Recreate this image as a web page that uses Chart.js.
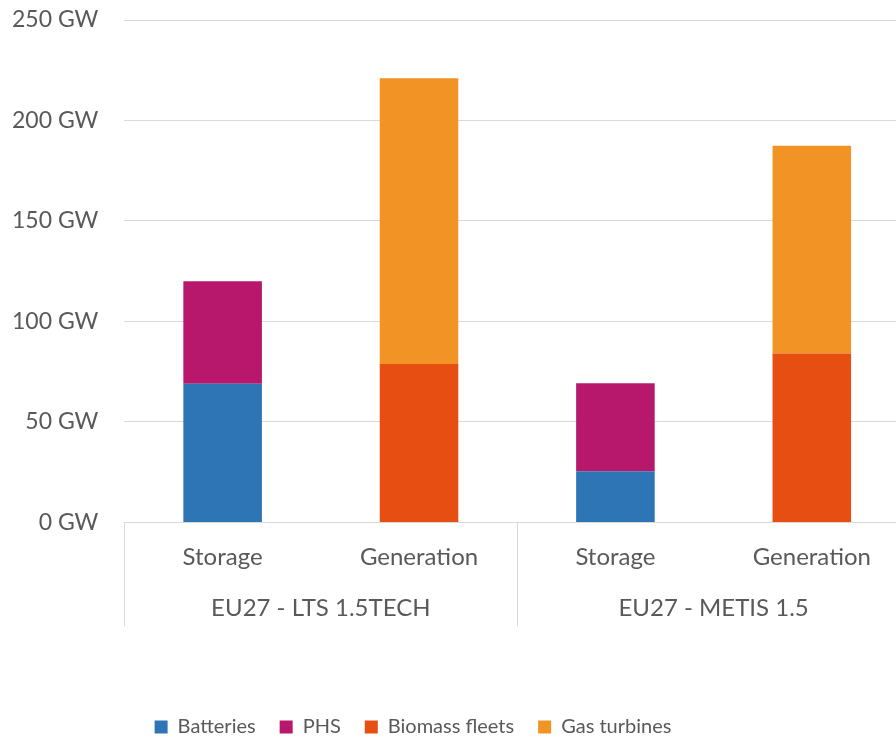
<!DOCTYPE html>
<html>
<head>
<meta charset="utf-8">
<script src="https://cdn.jsdelivr.net/npm/chart.js@4.4.1/dist/chart.umd.min.js"></script>
<style>
  html, body { margin: 0; padding: 0; background: #fff; overflow: hidden; }
  #wrap { width: 912px; height: 740px; }
</style>
</head>
<body>
<div id="wrap"><canvas id="c" width="912" height="740"></canvas></div>
<script>
const categories = ['Storage', 'Generation', 'Storage', 'Generation'];
const groups = ['EU27 - LTS 1.5TECH', 'EU27 - METIS 1.5'];
const batteries = [69, null, 25.4, null];
const phs = [51, null, 43.9, null];
const biomass = [null, 78.8, null, 84];
const gasTurbines = [null, 142.2, null, 103.4];
const yTicks = [0, 50, 100, 150, 200, 250];

const FONT = 'Lato, "Open Sans", sans-serif';
const TXT = '#595959';

const separators = {
  id: 'separators',
  afterDraw(chart) {
    const x = chart.scales.x, x2 = chart.scales.x2, ctx = chart.ctx;
    const mid = (x.getPixelForTick(1) + x.getPixelForTick(2)) / 2;
    const top = chart.chartArea.bottom;
    const bottom = x2.top + 43;
    ctx.save();
    ctx.strokeStyle = '#D9D9D9';
    ctx.lineWidth = 1;
    [chart.chartArea.left, mid, chart.chartArea.right].forEach(px => {
      const p = Math.round(px) + 0.5;
      ctx.beginPath(); ctx.moveTo(p, top); ctx.lineTo(p, bottom); ctx.stroke();
    });
    ctx.restore();
  }
};

const legendShift = {
  id: 'legendShift',
  afterLayout(chart) { chart.legend.right = chart.width - 72; }
};

new Chart(document.getElementById('c'), {
  type: 'bar',
  data: {
    labels: categories,
    datasets: [
      { label: 'Batteries', data: batteries, backgroundColor: '#2E75B6' },
      { label: 'PHS', data: phs, backgroundColor: '#B7186B' },
      { label: 'Biomass fleets', data: biomass, backgroundColor: '#E64F11' },
      { label: 'Gas turbines', data: gasTurbines, backgroundColor: '#F29325' }
    ]
  },
  options: {
    responsive: false,
    animation: false,
    layout: { padding: { left: -14, top: 0, right: 2, bottom: -7 } },
    datasets: { bar: { barPercentage: 0.4, categoryPercentage: 1, skipNull: false } },
    plugins: {
      tooltip: { enabled: false },
      legend: {
        position: 'bottom',
        align: 'center',
        labels: {
          font: { family: FONT, size: 20 },
          color: TXT,
          boxWidth: 13,
          boxHeight: 13,
          padding: 24
        }
      }
    },
    scales: {
      x: {
        stacked: true,
        grid: { display: false },
        border: { display: true, color: '#D9D9D9' },
        ticks: { font: { family: FONT, size: 24 }, color: TXT, padding: 12 }
      },
      x2: {
        type: 'category',
        labels: groups,
        position: 'bottom',
        grid: { display: false },
        border: { display: false },
        ticks: { font: { family: FONT, size: 24 }, color: TXT, padding: 3 },
        afterFit(scale) { scale.height += 67; }
      },
      y: {
        stacked: true,
        min: 0,
        max: 250,
        afterBuildTicks(scale) { scale.ticks = yTicks.map(v => ({ value: v })); },
        afterFit(scale) { scale.paddingTop = 20; },
        grid: { color: '#D9D9D9', drawTicks: false, lineWidth: 1 },
        border: { display: false },
        ticks: {
          font: { family: FONT, size: 23 },
          color: TXT,
          padding: 26,
          callback: v => v + ' GW'
        }
      }
    }
  },
  plugins: [separators, legendShift]
});
</script>
</body>
</html>
